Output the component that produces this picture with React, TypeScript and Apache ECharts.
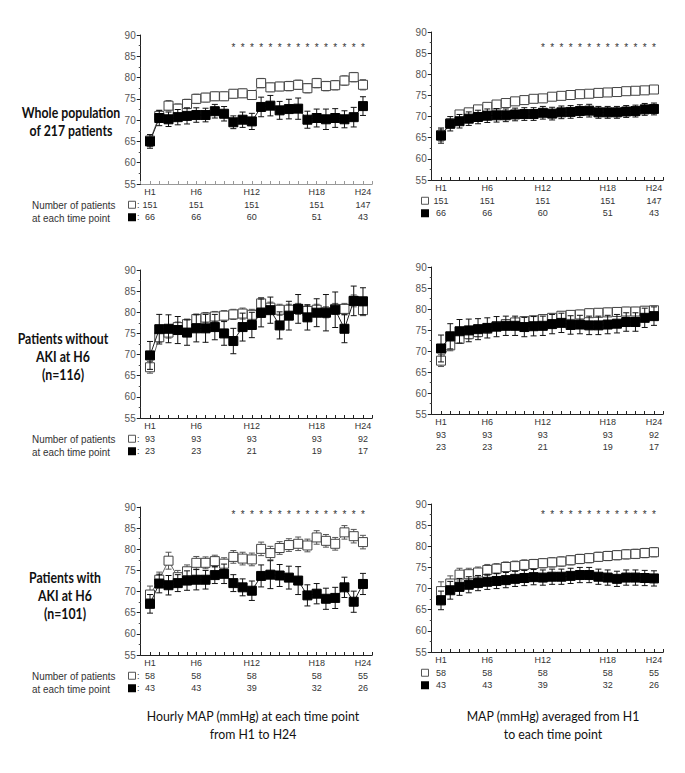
import React, { useEffect, useRef } from 'react';
import * as echarts from 'echarts';

// ---------- DATA ----------
const hours = [1, 2, 3, 4, 5, 6, 7, 8, 9, 10, 11, 12, 13, 14, 15, 16, 17, 18, 19, 20, 21, 22, 23, 24];
// tick label positions (hour index on axis) and texts, as drawn in the figure
const tickHours = [1, 6, 12, 19, 24];
const tickNames = ['H1', 'H6', 'H12', 'H18', 'H24'];

// Whole population — hourly MAP
const wholeHourlyOpen = [65.2, 71.0, 73.4, 72.7, 73.8, 75.0, 75.3, 75.6, 75.6, 76.2, 76.3, 75.9, 78.7, 77.7, 77.9, 78.0, 78.3, 77.5, 78.7, 78.0, 78.2, 79.3, 80.1, 78.3];
const wholeHourlyOpenErr = [1.4, 1.3, 1.2, 1.1, 1.1, 1.1, 1.0, 1.0, 1.0, 1.0, 1.0, 1.0, 1.1, 1.0, 1.0, 1.1, 1.1, 1.1, 1.1, 1.1, 1.1, 1.1, 1.1, 1.2];
const wholeHourlyBlack = [65.0, 70.5, 70.2, 70.7, 71.0, 71.2, 71.2, 72.1, 71.5, 69.5, 70.1, 69.7, 73.1, 73.4, 72.3, 72.6, 72.7, 70.1, 70.5, 70.2, 70.5, 70.2, 70.7, 73.3];
const wholeHourlyBlackErr = [1.6, 1.8, 1.7, 1.8, 1.9, 1.7, 1.6, 1.6, 1.7, 1.5, 1.8, 1.9, 2.3, 2.4, 2.1, 2.3, 2.5, 2.0, 2.1, 2.4, 2.2, 2.0, 2.3, 2.2];
// Whole population — averaged MAP
const wholeAvgOpen = [65.6, 68.4, 70.5, 71.0, 71.7, 72.3, 72.85, 73.2, 73.6, 73.9, 74.2, 74.3, 74.7, 74.9, 75.1, 75.3, 75.4, 75.6, 75.7, 75.8, 76.0, 76.1, 76.2, 76.4];
const wholeAvgOpenErr = [1.4, 1.0, 0.9, 0.8, 0.8, 0.8, 0.8, 0.8, 0.8, 0.8, 0.8, 0.8, 0.8, 0.8, 0.8, 0.8, 0.8, 0.8, 0.8, 0.8, 0.8, 0.8, 0.8, 0.8];
const wholeAvgBlack = [65.5, 68.3, 68.9, 69.5, 69.9, 70.2, 70.3, 70.3, 70.5, 70.6, 70.6, 70.9, 70.7, 71.0, 71.1, 71.3, 71.4, 71.0, 71.0, 71.0, 71.2, 71.3, 71.7, 71.8];
const wholeAvgBlackErr = [1.8, 1.7, 1.6, 1.6, 1.6, 1.6, 1.6, 1.5, 1.5, 1.5, 1.5, 1.5, 1.5, 1.5, 1.5, 1.5, 1.5, 1.4, 1.4, 1.4, 1.4, 1.4, 1.4, 1.4];
const wholeNOpen = [151, 151, 151, 151, 147];
const wholeNBlack = [66, 66, 60, 51, 43];

// Without AKI at H6 — hourly
const noAkiHourlyOpen = [67.0, 74.1, 75.2, 76.5, 77.2, 78.4, 78.75, 79.0, 79.2, 79.5, 79.7, 79.4, 82.1, 81.1, 80.6, 80.6, 80.8, 80.3, 80.6, 80.0, 80.8, 80.8, 82.7, 80.5];
const noAkiHourlyOpenErr = [1.4, 1.2, 1.3, 1.2, 1.2, 1.2, 1.2, 1.2, 1.2, 1.2, 1.3, 1.3, 1.4, 1.3, 1.3, 1.3, 1.3, 1.3, 1.3, 1.3, 1.3, 1.3, 1.4, 1.3];
const noAkiHourlyBlack = [69.8, 76.0, 76.1, 75.8, 75.2, 76.2, 76.2, 76.5, 75.0, 73.2, 76.5, 77.0, 79.85, 80.5, 76.9, 79.2, 80.8, 78.8, 79.9, 79.9, 80.6, 76.1, 82.7, 82.6];
const noAkiHourlyBlackErr = [3.3, 3.5, 3.3, 3.2, 3.0, 3.2, 3.3, 3.0, 2.8, 3.0, 3.3, 3.0, 3.3, 3.1, 3.2, 3.4, 3.4, 3.0, 3.3, 4.3, 4.2, 3.3, 3.5, 3.2];
// Without AKI at H6 — averaged
const noAkiAvgOpen = [67.7, 71.35, 72.9, 74.0, 74.5, 75.3, 75.9, 76.4, 76.8, 77.1, 77.3, 77.6, 77.9, 78.4, 78.6, 78.7, 79.0, 79.1, 79.2, 79.3, 79.4, 79.4, 79.6, 79.7];
const noAkiAvgOpenErr = [1.4, 1.3, 1.1, 1.1, 1.1, 1.1, 1.0, 1.0, 1.0, 1.0, 1.0, 1.0, 1.0, 1.0, 1.0, 1.0, 1.0, 1.0, 1.0, 1.0, 1.0, 1.0, 1.0, 1.0];
const noAkiAvgBlack = [70.6, 73.5, 74.7, 74.9, 75.2, 75.5, 75.8, 76.0, 76.0, 75.7, 75.9, 76.0, 76.4, 76.7, 76.2, 76.3, 76.1, 76.1, 76.3, 76.5, 76.9, 76.9, 77.9, 78.3];
const noAkiAvgBlackErr = [3.2, 3.0, 2.8, 2.7, 2.5, 2.4, 2.4, 2.3, 2.3, 2.3, 2.3, 2.3, 2.3, 2.3, 2.2, 2.2, 2.2, 2.2, 2.2, 2.2, 2.2, 2.2, 2.3, 2.2];
const noAkiNOpen = [93, 93, 93, 93, 92];
const noAkiNBlack = [23, 23, 21, 19, 17];

// With AKI at H6 — hourly
const akiHourlyOpen = [69.3, 72.8, 77.3, 73.4, 74.8, 76.8, 76.8, 77.2, 76.6, 78.2, 77.8, 77.6, 80.1, 79.1, 80.3, 81.0, 81.3, 80.9, 82.8, 82.0, 81.3, 84.0, 83.1, 81.7];
const akiHourlyOpenErr = [2.0, 1.8, 2.0, 1.6, 1.5, 1.5, 1.4, 1.4, 1.4, 1.5, 1.5, 1.5, 1.6, 1.6, 1.5, 1.5, 1.6, 1.5, 1.6, 1.5, 1.5, 1.6, 1.6, 1.6];
const akiHourlyBlack = [67.1, 71.9, 71.5, 72.0, 72.6, 72.8, 72.8, 73.9, 74.2, 72.0, 71.0, 70.2, 73.7, 74.0, 73.8, 73.3, 72.6, 69.1, 69.5, 68.3, 68.5, 71.0, 67.6, 71.8];
const akiHourlyBlackErr = [2.2, 2.2, 2.3, 2.0, 2.3, 2.4, 2.2, 2.0, 2.3, 2.0, 2.0, 2.3, 2.6, 3.3, 2.6, 2.7, 3.3, 2.5, 2.4, 2.5, 2.5, 2.4, 2.5, 2.5];
// With AKI at H6 — averaged
const akiAvgOpen = [69.4, 71.2, 73.3, 73.4, 73.8, 74.4, 74.7, 75.1, 75.3, 75.6, 75.8, 76.0, 76.2, 76.4, 76.7, 77.0, 77.2, 77.5, 77.7, 77.9, 78.1, 78.2, 78.4, 78.6];
const akiAvgOpenErr = [2.2, 1.8, 1.5, 1.4, 1.3, 1.3, 1.2, 1.2, 1.2, 1.2, 1.1, 1.1, 1.1, 1.1, 1.1, 1.1, 1.1, 1.1, 1.1, 1.1, 1.1, 1.1, 1.1, 1.1];
const akiAvgBlack = [67.2, 69.6, 70.4, 70.9, 71.3, 71.6, 71.8, 72.0, 72.3, 72.5, 72.7, 72.6, 72.8, 72.8, 73.0, 73.2, 73.2, 72.8, 72.6, 72.3, 72.6, 72.6, 72.5, 72.4];
const akiAvgBlackErr = [2.2, 2.1, 2.0, 1.9, 1.8, 1.8, 1.8, 1.8, 1.8, 1.8, 1.8, 1.8, 1.8, 1.8, 1.8, 1.8, 1.8, 1.8, 1.8, 1.8, 1.8, 1.8, 1.8, 1.8];
const akiNOpen = [58, 58, 58, 58, 55];
const akiNBlack = [43, 43, 39, 32, 26];

// significance stars (hours) and the level they are printed at
const starsHourly = [10, 11, 12, 13, 14, 15, 16, 17, 18, 19, 20, 21, 22, 23, 24];
const starsAvg = [12, 13, 14, 15, 16, 17, 18, 19, 20, 21, 22, 23, 24];

// ---------- LAYOUT ----------
const STEP = 9.26;
const LEFT_X = 150 - STEP;
const RIGHT_X = 441 - STEP;
const LABEL_MARGIN = 2;
const LINE_H = 12.5;

type Panel = {
  open: number[]; openErr: number[]; black: number[]; blackErr: number[];
  nOpen: number[]; nBlack: number[]; stars: number[]; starLevel: number;
  left: number; top: number; height: number; xAxisColor: string; legend: 'colon' | 'plain' | 'none';
};

const panels: Panel[] = [
  { open: wholeHourlyOpen, openErr: wholeHourlyOpenErr, black: wholeHourlyBlack, blackErr: wholeHourlyBlackErr, nOpen: wholeNOpen, nBlack: wholeNBlack, stars: starsHourly, starLevel: 87.1, left: LEFT_X, top: 35, height: 149, xAxisColor: '#999', legend: 'colon' },
  { open: wholeAvgOpen, openErr: wholeAvgOpenErr, black: wholeAvgBlack, blackErr: wholeAvgBlackErr, nOpen: wholeNOpen, nBlack: wholeNBlack, stars: starsAvg, starLevel: 86.3, left: RIGHT_X, top: 32, height: 148, xAxisColor: '#222', legend: 'plain' },
  { open: noAkiHourlyOpen, openErr: noAkiHourlyOpenErr, black: noAkiHourlyBlack, blackErr: noAkiHourlyBlackErr, nOpen: noAkiNOpen, nBlack: noAkiNBlack, stars: [], starLevel: 0, left: LEFT_X, top: 270, height: 148, xAxisColor: '#222', legend: 'colon' },
  { open: noAkiAvgOpen, openErr: noAkiAvgOpenErr, black: noAkiAvgBlack, blackErr: noAkiAvgBlackErr, nOpen: noAkiNOpen, nBlack: noAkiNBlack, stars: [], starLevel: 0, left: RIGHT_X, top: 267, height: 147, xAxisColor: '#222', legend: 'none' },
  { open: akiHourlyOpen, openErr: akiHourlyOpenErr, black: akiHourlyBlack, blackErr: akiHourlyBlackErr, nOpen: akiNOpen, nBlack: akiNBlack, stars: starsHourly, starLevel: 88.2, left: LEFT_X, top: 507, height: 148, xAxisColor: '#222', legend: 'colon' },
  { open: akiAvgOpen, openErr: akiAvgOpenErr, black: akiAvgBlack, blackErr: akiAvgBlackErr, nOpen: akiNOpen, nBlack: akiNBlack, stars: starsAvg, starLevel: 87.5, left: RIGHT_X, top: 504, height: 148, xAxisColor: '#222', legend: 'plain' },
];

const numFont = '"Liberation Sans", Arial, sans-serif';
const titleFont = 'Lato, "Open Sans", sans-serif';

const errRender = (color: string) => (params: any, api: any) => {
  const x = api.value(0);
  const y = api.value(1);
  const e = api.value(2);
  const top = api.coord([x, y + e]);
  const bot = api.coord([x, y - e]);
  const w = 3;
  const style = { stroke: color, lineWidth: 1 };
  return {
    type: 'group',
    children: [
      { type: 'line', shape: { x1: top[0], y1: top[1], x2: bot[0], y2: bot[1] }, style },
      { type: 'line', shape: { x1: top[0] - w, y1: top[1], x2: top[0] + w, y2: top[1] }, style },
      { type: 'line', shape: { x1: bot[0] - w, y1: bot[1], x2: bot[0] + w, y2: bot[1] }, style },
    ],
  };
};

const starRender = (params: any, api: any) => {
  const p = api.coord([api.value(0), api.value(1)]);
  return {
    type: 'text',
    x: p[0],
    y: p[1],
    style: { text: '*', fill: '#333', font: `10px ${numFont}`, textAlign: 'center', textVerticalAlign: 'middle' },
  };
};

function buildOption() {
  const grid: any[] = [];
  const xAxis: any[] = [];
  const yAxis: any[] = [];
  const series: any[] = [];
  const graphic: any[] = [];

  panels.forEach((p, i) => {
    grid.push({ left: p.left, top: p.top, width: STEP * 25, height: p.height, containLabel: false });
    xAxis.push({
      type: 'value', gridIndex: i, min: 0, max: 25, interval: 1,
      axisLine: { show: true, lineStyle: { color: p.xAxisColor, width: 1 } },
      axisTick: { show: true, inside: true, length: 3, lineStyle: { color: p.xAxisColor } },
      splitLine: { show: false },
      axisLabel: {
        show: true, margin: LABEL_MARGIN, showMinLabel: true, showMaxLabel: true,
        formatter: (v: number) => {
          const r = Math.round(v);
          if (Math.abs(v - r) > 1e-6) return '';
          const k = tickHours.indexOf(r);
          if (k < 0) return '';
          return `{h|${tickNames[k]}}\n{n|${p.nOpen[k]}}\n{n|${p.nBlack[k]}}`;
        },
        rich: {
          h: { fontSize: 9, fontFamily: numFont, color: '#333', lineHeight: LINE_H },
          n: { fontSize: 9, fontFamily: numFont, color: '#333', lineHeight: LINE_H },
        },
      },
    });
    yAxis.push({
      type: 'value', gridIndex: i, min: 55, max: 90, interval: 5,
      axisLine: { show: true, lineStyle: { color: '#222', width: 1 } },
      axisTick: { show: true, length: 4, lineStyle: { color: '#222' } },
      minorTick: { show: true, splitNumber: 2, length: 2, lineStyle: { color: '#444' } },
      splitLine: { show: false },
      axisLabel: { fontSize: 10, fontFamily: numFont, color: '#555', margin: 5 },
    });

    series.push({
      type: 'custom', xAxisIndex: i, yAxisIndex: i, z: 1,
      renderItem: errRender('#555'),
      data: hours.map((h, k) => [h, p.open[k], p.openErr[k]]),
      encode: { x: 0, y: 1 },
    });
    series.push({
      type: 'line', xAxisIndex: i, yAxisIndex: i, z: 2,
      data: hours.map((h, k) => [h, p.open[k]]),
      symbol: 'rect', symbolSize: 9, showSymbol: true,
      itemStyle: { color: '#fff', borderColor: '#444', borderWidth: 1 },
      lineStyle: { color: '#666', width: 1 },
    });
    series.push({
      type: 'custom', xAxisIndex: i, yAxisIndex: i, z: 3,
      renderItem: errRender('#111'),
      data: hours.map((h, k) => [h, p.black[k], p.blackErr[k]]),
      encode: { x: 0, y: 1 },
    });
    series.push({
      type: 'line', xAxisIndex: i, yAxisIndex: i, z: 4,
      data: hours.map((h, k) => [h, p.black[k]]),
      symbol: 'rect', symbolSize: 9, showSymbol: true,
      itemStyle: { color: '#000', borderColor: '#000', borderWidth: 1 },
      lineStyle: { color: '#222', width: 1 },
    });
    if (p.stars.length) {
      series.push({
        type: 'custom', xAxisIndex: i, yAxisIndex: i, z: 5,
        renderItem: starRender,
        data: p.stars.map((h) => [h, p.starLevel]),
        encode: { x: 0, y: 1 },
      });
    }

    // legend squares / row captions
    const axisY = p.top + p.height;
    const row1 = axisY + LABEL_MARGIN + LINE_H * 1.5;
    const row2 = axisY + LABEL_MARGIN + LINE_H * 2.5;
    if (p.legend === 'colon') {
      const capStyle = (text: string) => ({ text, font: `11.5px ${numFont}`, fill: '#333', textAlign: 'left', textVerticalAlign: 'middle' });
      graphic.push({ type: 'text', x: 32, y: row1, scaleX: 0.86, style: capStyle('Number of patients') });
      graphic.push({ type: 'text', x: 32, y: row2, scaleX: 0.86, style: capStyle('at each time point') });
      graphic.push({ type: 'rect', shape: { x: 128.5, y: row1 - 3.5, width: 7, height: 7 }, style: { fill: '#fff', stroke: '#555', lineWidth: 1 } });
      graphic.push({ type: 'rect', shape: { x: 128, y: row2 - 4, width: 8, height: 8 }, style: { fill: '#000' } });
      graphic.push({ type: 'text', x: 137, y: row1, style: { text: ':', font: `9px ${numFont}`, fill: '#333', textVerticalAlign: 'middle' } });
      graphic.push({ type: 'text', x: 137, y: row2, style: { text: ':', font: `9px ${numFont}`, fill: '#333', textVerticalAlign: 'middle' } });
    } else if (p.legend === 'plain') {
      graphic.push({ type: 'rect', shape: { x: 421.5, y: row1 - 3.5, width: 7, height: 7 }, style: { fill: '#fff', stroke: '#555', lineWidth: 1 } });
      graphic.push({ type: 'rect', shape: { x: 421, y: row2 - 4, width: 8, height: 8 }, style: { fill: '#000' } });
    }
  });

  const titleStyle = (text: string) => ({ text, font: `bold 15px ${titleFont}`, fill: '#111', textAlign: 'center', textVerticalAlign: 'middle' });
  const rowTitles: [string, number, number][] = [
    ['Whole population', 71, 112], ['of 217 patients', 71, 130],
    ['Patients without', 63, 338], ['AKI at H6', 63, 356], ['(n=116)', 63, 374],
    ['Patients with', 65, 577], ['AKI at H6', 65, 595], ['(n=101)', 65, 613],
  ];
  rowTitles.forEach(([t, x, y]) => graphic.push({ type: 'text', x, y, scaleX: 0.82, style: titleStyle(t) }));

  const colStyle = (text: string) => ({ text, font: `14px ${titleFont}`, fill: '#111', textAlign: 'center', textVerticalAlign: 'middle' });
  const colTitles: [string, number, number][] = [
    ['Hourly MAP (mmHg) at each time point', 253, 716], ['from H1 to H24', 253, 734],
    ['MAP (mmHg) averaged from H1', 553, 716], ['to each time point', 553, 734],
  ];
  colTitles.forEach(([t, x, y]) => graphic.push({ type: 'text', x, y, scaleX: 0.88, style: colStyle(t) }));

  return {
    animation: false,
    backgroundColor: '#fff',
    grid, xAxis, yAxis, series, graphic,
  };
}

export default function App() {
  const ref = useRef<HTMLDivElement>(null);
  useEffect(() => {
    if (!ref.current) return;
    const chart = echarts.init(ref.current, undefined, { renderer: 'svg' });
    chart.setOption(buildOption() as any);
    return () => chart.dispose();
  }, []);
  return (
    <div
      ref={ref}
      style={{ position: 'absolute', left: 0, top: 0, width: 685, height: 773, background: '#fff' }}
    />
  );
}
